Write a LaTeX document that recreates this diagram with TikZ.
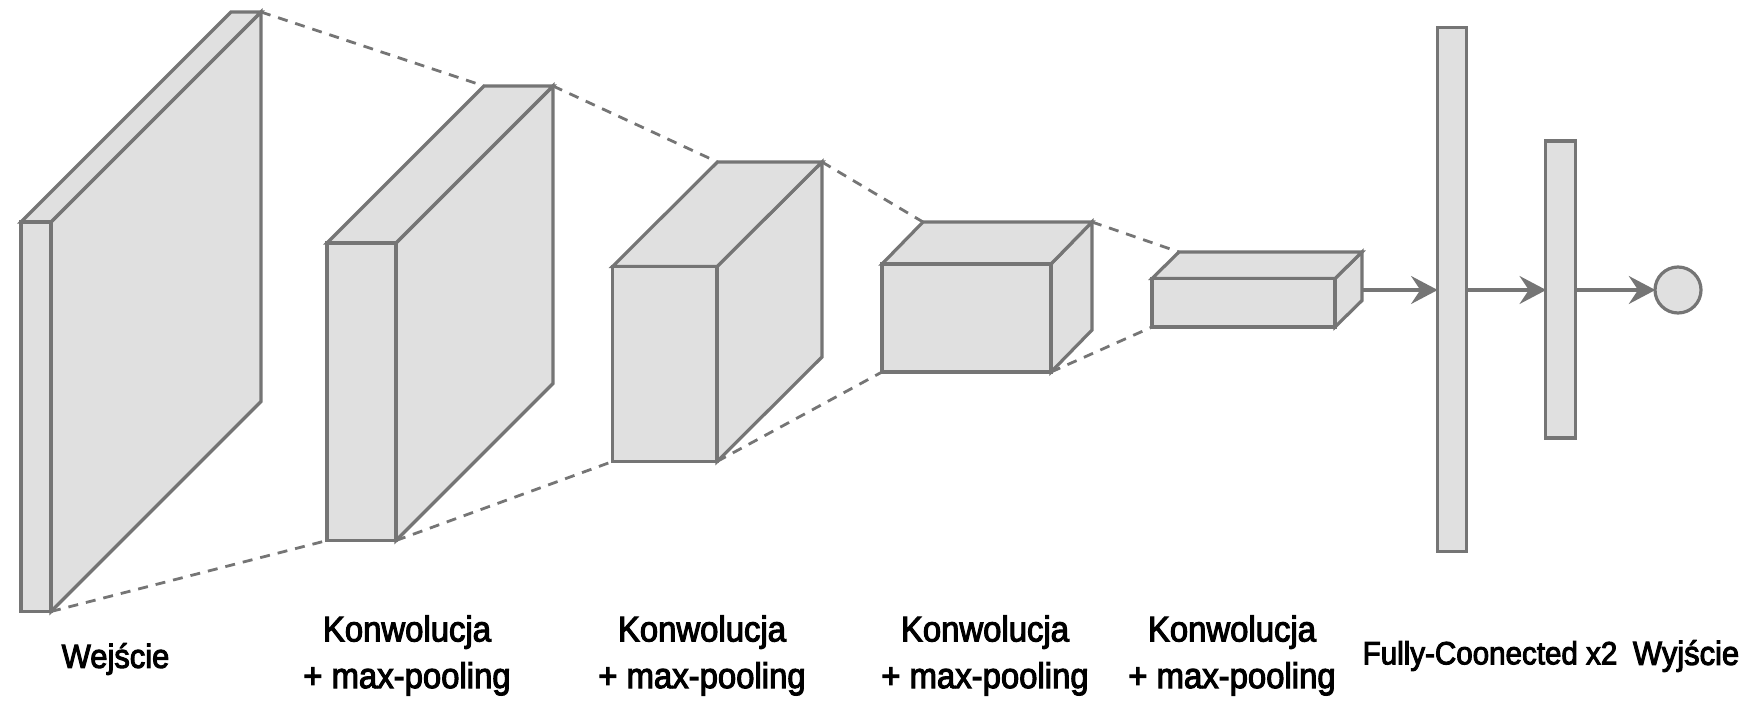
\documentclass[tikz,border=0pt]{standalone}
\usepackage{fontspec}
\setmainfont[FakeStretch=0.92,FakeBold=3]{Liberation Sans}
\usetikzlibrary{arrows.meta}
\definecolor{ln}{HTML}{757575}
\definecolor{fl}{HTML}{E0E0E0}
\tikzset{
  x=0.75pt,y=-0.75pt,
  face/.style={draw=ln,fill=fl,line width=2.4pt,line join=miter},
  link/.style={draw=ln,line width=2.1pt,dash pattern=on 7.5pt off 6pt},
  flow/.style={draw=ln,line width=2.4pt,shorten >=-1.5pt,-{Stealth[length=20pt,width=21pt,inset=7pt]}},
  bar/.style={face,rectangle,inner sep=0pt},
  lbl/.style={font=\fontsize{26.8pt}{35pt}\selectfont,align=center,inner sep=0pt,text=black},
  lblb/.style={font=\fontsize{24.1pt}{30pt}\selectfont,align=center,inner sep=0pt,text=black},
  lblc/.style={font=\fontsize{25.2pt}{30pt}\selectfont,align=center,inner sep=0pt,text=black}
}
% name, front-left x, top y, front-right x, bottom y, dx, dy
\newcommand{\cuboidcoords}[7]{%
  \coordinate (#1tl) at (#2,#3);
  \coordinate (#1tr) at (#4,#3);
  \coordinate (#1bl) at (#2,#5);
  \coordinate (#1br) at (#4,#5);
  \coordinate (#1btl) at (#2+#6,#3-#7);
  \coordinate (#1btr) at (#4+#6,#3-#7);
  \coordinate (#1bbr) at (#4+#6,#5-#7);
}
\newcommand{\cuboiddraw}[1]{%
  \draw[face] (#1tr) -- (#1btr) -- (#1bbr) -- (#1br) -- cycle;
  \draw[face] (#1tl) -- (#1btl) -- (#1btr) -- (#1tr) -- cycle;
  \draw[face] (#1tl) rectangle (#1br);
}
\begin{document}
\begin{tikzpicture}
\useasboundingbox (0,0) rectangle (1740,720);
\cuboidcoords{a}{21}{222}{51}{611.5}{210}{210}
\cuboidcoords{b}{327}{243}{396}{540.5}{157}{157}
\cuboidcoords{c}{612.5}{266.5}{717}{461.5}{105}{104.5}
\cuboidcoords{d}{882}{264}{1051}{372}{41}{42}
\cuboidcoords{e}{1152}{278.5}{1335}{327}{27}{26.5}

\draw[link] (abtr) -- (bbtl);
\draw[link] (abr) -- (bbl);
\draw[link] (bbtr) -- (cbtl);
\draw[link] (bbr) -- (cbl);
\draw[link] (cbtr) -- (dbtl);
\draw[link] (cbr) -- (dbl);
\draw[link] (dbtr) -- (ebtl);
\draw[link] (dbr) -- (ebl);

\cuboiddraw{a}
\cuboiddraw{b}
\cuboiddraw{c}
\cuboiddraw{d}
\cuboiddraw{e}

\coordinate (eout) at (1362,290);
\node[bar,minimum width=29.5*0.75pt,minimum height=524.5*0.75pt] (fc1) at (1452,289.5) {};
\node[bar,minimum width=29.5*0.75pt,minimum height=297*0.75pt] (fc2) at (1560.5,289.5) {};
\node[face,circle,minimum size=46*0.75pt,inner sep=0pt] (out) at (1678,290) {};

\draw[flow] (eout) -- (eout -| fc1.west);
\draw[flow] (fc1.east |- eout) -- (fc2.west |- eout);
\draw[flow] (fc2.east |- eout) -- (out.west);

\node[lblc] (t1) at (115.5,659) {Wejście};
\node[lbl] (t2) at (407,655.5) {Konwolucja\\+ max-pooling};
\node[lbl] (t3) at (702,655.5) {Konwolucja\\+ max-pooling};
\node[lbl] (t4) at (985,655.5) {Konwolucja\\+ max-pooling};
\node[lbl] (t5) at (1232,655.5) {Konwolucja\\+ max-pooling};
\node[lblb] (t6) at (1490,656) {Fully-Coonected x2};
\node[lblc] (t7) at (1686,656) {Wyjście};
\end{tikzpicture}
\end{document}
